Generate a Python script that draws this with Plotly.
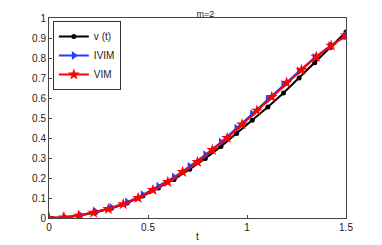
import numpy as np
import plotly.graph_objects as go

# time grids
t_exact = [0, 0.0789, 0.1579, 0.2368, 0.3158, 0.3947, 0.4737, 0.5526, 0.6316, 0.7105,
           0.7895, 0.8684, 0.9474, 1.0263, 1.1053, 1.1842, 1.2632, 1.3421, 1.4211, 1.5]
t_vim = [0, 0.075, 0.15, 0.225, 0.3, 0.375, 0.45, 0.525, 0.6, 0.675, 0.75,
         0.825, 0.9, 0.975, 1.05, 1.125, 1.2, 1.275, 1.35, 1.425, 1.5]

v_exact = [0, 0.003, 0.013, 0.029, 0.049, 0.075, 0.110, 0.150, 0.193, 0.244,
           0.298, 0.358, 0.423, 0.489, 0.555, 0.625, 0.700, 0.776, 0.853, 0.930]
v_ivim = [0, 0.004, 0.014, 0.031, 0.052, 0.079, 0.116, 0.158, 0.204, 0.258,
          0.316, 0.379, 0.448, 0.520, 0.592, 0.665, 0.734, 0.802, 0.861, 0.910]
v_vim = [0, 0.003, 0.012, 0.027, 0.045, 0.069, 0.100, 0.140, 0.180, 0.230, 0.280,
         0.340, 0.400, 0.468, 0.537, 0.605, 0.676, 0.740, 0.806, 0.862, 0.913]

x_ticks = [0, 0.5, 1, 1.5]
x_ticklabels = ["0", "0.5", "1", "1.5"]
y_ticks = [0, 0.1, 0.2, 0.3, 0.4, 0.5, 0.6, 0.7, 0.8, 0.9, 1]
y_ticklabels = ["0", "0.1", "0.2", "0.3", "0.4", "0.5", "0.6", "0.7", "0.8", "0.9", "1"]

fig = go.Figure()
fig.add_trace(go.Scatter(x=t_exact, y=v_exact, mode="lines+markers", name="v (t)",
                         line=dict(color="black", width=2),
                         marker=dict(symbol="circle", size=5, color="black")))
fig.add_trace(go.Scatter(x=t_exact, y=v_ivim, mode="lines+markers", name="IVIM",
                         line=dict(color="#2040ff", width=2),
                         marker=dict(symbol="triangle-right", size=8, color="#2040ff")))
fig.add_trace(go.Scatter(x=t_vim, y=v_vim, mode="lines+markers", name="VIM",
                         line=dict(color="red", width=2),
                         marker=dict(symbol="star", size=9, color="red")))

axis_common = dict(showline=True, mirror=True, linecolor="#444", linewidth=1,
                   ticks="inside", ticklen=3, tickcolor="#444", showgrid=False,
                   zeroline=False, automargin=False,
                   tickfont=dict(size=10, color="#222", family="Liberation Sans, Arial"))
fig.update_xaxes(range=[0, 1.5], tickvals=x_ticks, ticktext=x_ticklabels,
                 title=dict(text="t", font=dict(size=10, color="#222"), standoff=0),
                 **axis_common)
fig.update_yaxes(range=[0, 1], tickvals=y_ticks, ticktext=y_ticklabels, **axis_common)

fig.update_layout(
    width=382, height=245,
    margin=dict(l=41, r=44, t=10, b=35, autoexpand=False),
    paper_bgcolor="white", plot_bgcolor="white",
    title=dict(text="m=2", x=0.517, xanchor="center", y=0.99, yanchor="top",
               font=dict(size=9, color="#222", family="Liberation Sans, Arial")),
    font=dict(family="Liberation Sans, Arial", size=10, color="#222"),
    legend=dict(x=0.013, y=0.985, xanchor="left", yanchor="top",
                bgcolor="white", bordercolor="#333", borderwidth=1,
                font=dict(size=10), tracegroupgap=0, itemwidth=30,
                traceorder="normal"),
    showlegend=True,
)

fig.write_html("out.html")
